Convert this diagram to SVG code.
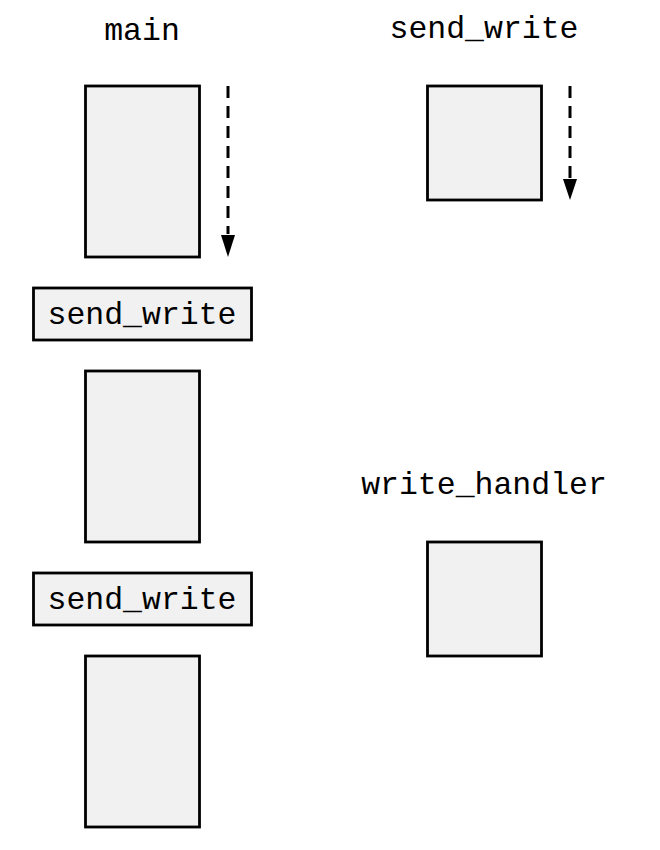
<svg xmlns="http://www.w3.org/2000/svg" width="660" height="850" viewBox="0 0 660 850">
<defs>
<style>
.blk{fill:#f1f1f1;stroke:#000;stroke-width:2.8}
.t{font-family:"Liberation Mono","Courier New",monospace;font-size:31.5px;fill:#000;text-anchor:middle}
.flow{stroke:#000;stroke-width:3;stroke-dasharray:12,8;fill:none}
</style>
</defs>
<rect width="660" height="850" fill="#fff"/>
<g id="title-main"><text class="t" x="142" y="40">main</text></g>
<g id="title-send_write"><text class="t" x="484" y="38">send_write</text></g>
<g id="title-write_handler"><text class="t" x="484" y="494">write_handler</text></g>
<g id="main-seg1"><rect class="blk" x="85.5" y="86" width="114" height="171"/></g>
<g id="call1"><rect class="blk" x="33.5" y="288" width="218" height="52"/><text class="t" x="142" y="324">send_write</text></g>
<g id="main-seg2"><rect class="blk" x="85.5" y="371" width="114" height="171"/></g>
<g id="call2"><rect class="blk" x="33.5" y="573" width="218" height="52"/><text class="t" x="142" y="609">send_write</text></g>
<g id="main-seg3"><rect class="blk" x="85.5" y="656" width="114" height="171"/></g>
<g id="send_write-seg"><rect class="blk" x="427.5" y="86" width="114" height="114"/></g>
<g id="write_handler-seg"><rect class="blk" x="427.5" y="542" width="114" height="114"/></g>
<g id="connectors">
<line class="flow" x1="228" y1="86" x2="228" y2="234"/>
<path d="M221,235 L235,235 L228,257 z" fill="#000"/>
<line class="flow" x1="570" y1="86" x2="570" y2="178"/>
<path d="M563,179 L577,179 L570,200 z" fill="#000"/>
</g>
</svg>
